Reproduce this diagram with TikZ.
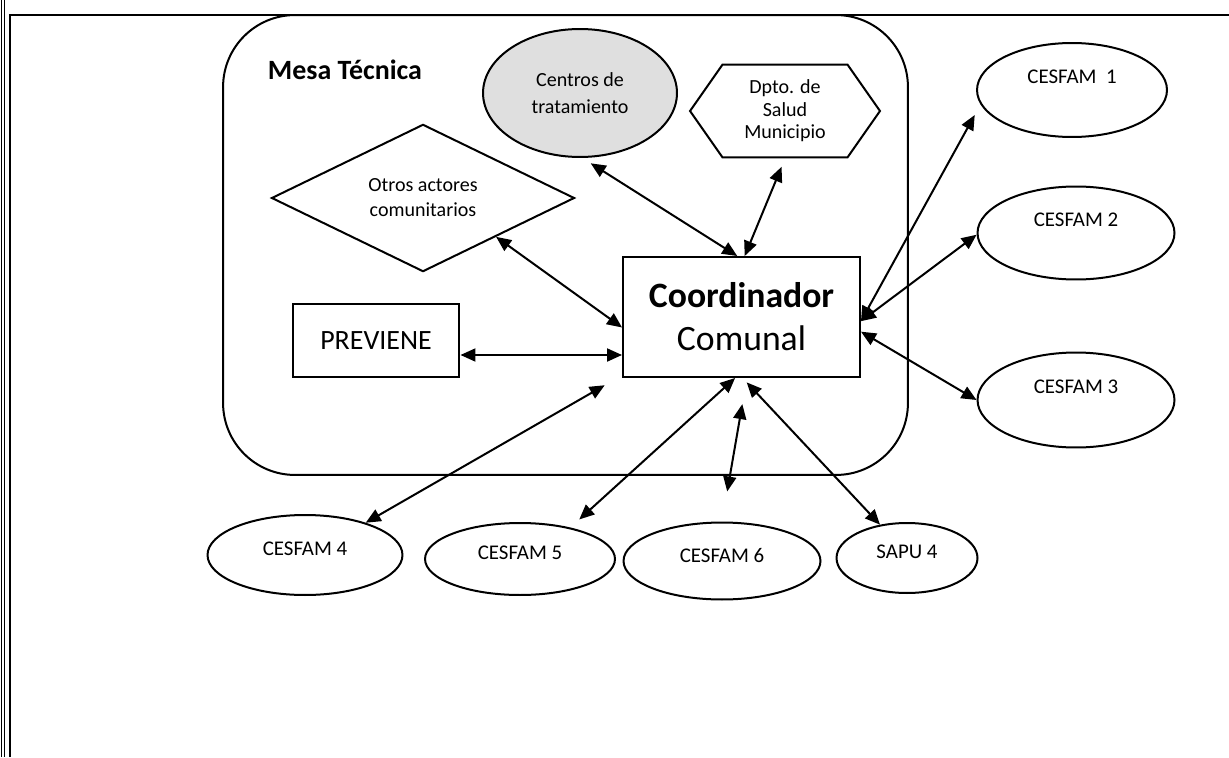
\documentclass[tikz,border=0pt]{standalone}
\usepackage{tikz}
\usepackage{fontspec}
\setmainfont{Carlito}
\usetikzlibrary{shapes.geometric,shapes.symbols,arrows.meta}

\begin{document}
\begin{tikzpicture}[x=0.02cm,y=-0.02cm,line width=0.04cm,
    cesfam/.style={ellipse,draw,inner sep=0pt,align=center,text depth=0.54cm,font=\fontsize{11.9}{14}\selectfont},
    bi/.style={{Triangle[length=0.3cm,width=0.26cm]}-{Triangle[length=0.3cm,width=0.26cm]}}]
            \useasboundingbox (0,0) rectangle (1229,757);
            % page frame
            \draw[line width=0.02cm] (1.5,0) -- (1.5,757) (4.5,0) -- (4.5,757);
            \draw (10,757) -- (10,15) -- (1229,15);

            \node (mesa) at (565.5,245) [draw,rounded corners=1.44cm,minimum width=13.7cm,minimum height=9.2cm] {};
            \node (mesalbl) at (345,70) [font=\fontsize{15.9}{19}\selectfont\bfseries] {Mesa Técnica};
            \node (centros) at (580,93) [ellipse,draw,fill=gray!25,minimum width=3.88cm,minimum height=2.56cm,inner sep=0pt,align=center,font=\fontsize{11.4}{15.4}\selectfont] {Centros de\\tratamiento};
            \node (dpto) at (785,111) [signal,signal to=west and east,signal pointer angle=110,draw,minimum width=3.8cm,minimum height=1.86cm,inner sep=0pt,align=center,font=\fontsize{11.4}{12.8}\selectfont] {Dpto. de\\Salud\\Municipio};
            \node (otros) at (423,198) [diamond,draw,minimum width=6.06cm,minimum height=2.4cm,inner sep=0pt,align=center,font=\fontsize{11.4}{14.2}\selectfont] {Otros actores\\comunitarios};
            \node (prev) at (376,340.5) [draw,minimum width=3.34cm,minimum height=1.46cm,font=\fontsize{15.9}{19}\selectfont] {PREVIENE};
            \node (coord) at (741.5,317) [draw,minimum width=4.74cm,minimum height=2.4cm,align=center,font=\fontsize{20.3}{24.5}\selectfont] {\textbf{Coordinador}\\Comunal};

            \node (c1) at (1072,90) [cesfam,minimum width=3.8cm,minimum height=1.88cm] {CESFAM~~1};
            \node (c2) at (1076,233) [cesfam,minimum width=3.94cm,minimum height=1.86cm] {CESFAM 2};
            \node (c3) at (1076,400) [cesfam,minimum width=3.94cm,minimum height=1.9cm] {CESFAM 3};
            \node (c4) at (305,555) [cesfam,text depth=0.24cm,minimum width=3.9cm,minimum height=1.6cm] {CESFAM 4};
            \node (c5) at (520,559) [cesfam,text depth=0.24cm,minimum width=3.8cm,minimum height=1.44cm] {CESFAM 5};
            \node (c6) at (722,561) [cesfam,text depth=0.24cm,minimum width=3.94cm,minimum height=1.54cm] {CESFAM 6};
            \node (sapu) at (907,558) [cesfam,text depth=0.24cm,minimum width=2.82cm,minimum height=1.4cm] {SAPU 4};

            \draw[bi,shorten <=0.2cm] (centros.272) -- (coord.94);
            \draw[bi,shorten <=0.18cm] (dpto.south) -- (coord.87);
            \draw[bi] (otros.332) -- (coord.185);
            \draw[bi] ([yshift=-0.29cm]prev.east) -- ([yshift=-0.29cm]prev.east -| coord.west);
            \draw[bi,shorten >=0.4cm] (c4.28) -- (coord.206);
            \draw[bi,shorten <=0.24cm] (c5.32) -- (coord.264);
            \draw[bi,shorten <=0.61cm,shorten >=0.53cm] (c6.north) -- (coord.275);
            \draw[bi,shorten >=0.12cm] (sapu.129) -- (coord.271);
            \draw[bi,shorten >=0.24cm] (coord.358) -- (c1.189);
            \draw[bi] (coord.358) -- (c2.181);
            \draw[bi] (coord.353) -- (c3.west);
        \end{tikzpicture}
\end{document}
